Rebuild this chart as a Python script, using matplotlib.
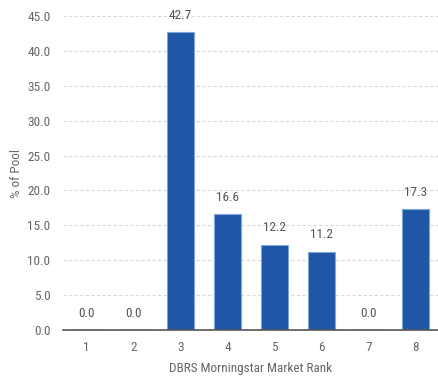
import matplotlib
matplotlib.use("Agg")
import matplotlib.pyplot as plt
from matplotlib import font_manager

ranks = ["1", "2", "3", "4", "5", "6", "7", "8"]
pool_pct = [0.0, 0.0, 42.7, 16.6, 12.2, 11.2, 0.0, 17.3]
y_ticks = [0.0, 5.0, 10.0, 15.0, 20.0, 25.0, 30.0, 35.0, 40.0, 45.0]

names = {f.name for f in font_manager.fontManager.ttflist}
family = "Roboto Condensed" if "Roboto Condensed" in names else "Roboto"
plt.rcParams["font.family"] = [family, "DejaVu Sans"]

fig = plt.figure(figsize=(4.39, 3.77), dpi=100)
ax = fig.add_axes([63 / 439, 1 - 330 / 377, (439 - 63) / 439, (330 - 16) / 377])

x = list(range(len(ranks)))
ax.bar(x, pool_pct, width=0.58, color="#1f56a5", edgecolor="#7fa6d8",
       linewidth=0.8, zorder=3)
for xi, v in zip(x, pool_pct):
    ax.text(xi, v + 1.5, f"{v:.1f}", ha="center", va="bottom",
            fontsize=9.5, color="#555555", zorder=4)

ax.set_xlim(-0.5, len(ranks) - 0.5)
ax.set_ylim(0, 45)
ax.set_yticks(y_ticks)
ax.set_yticklabels([f"{t:.1f}" for t in y_ticks])
ax.set_xticks(x)
ax.set_xticklabels(ranks)
ax.yaxis.grid(True, linestyle=(0, (3, 2)), color="#d9d9d9", linewidth=0.8, zorder=0)
ax.set_axisbelow(True)
for s in ["top", "right", "left"]:
    ax.spines[s].set_visible(False)
ax.spines["bottom"].set_color("#555555")
ax.spines["bottom"].set_linewidth(1.2)
ax.spines["bottom"].set_zorder(5)
ax.tick_params(axis="both", length=0, labelsize=9.5, labelcolor="#666666")
ax.tick_params(axis="x", pad=8)
ax.tick_params(axis="y", pad=9)
ax.set_xlabel("DBRS Morningstar Market Rank", fontsize=9.5, color="#666666", labelpad=6)
ax.set_ylabel("% of Pool", fontsize=9.5, color="#666666")
ax.yaxis.set_label_coords(-0.106, 0.5)

fig.savefig("out.png", dpi=100)
